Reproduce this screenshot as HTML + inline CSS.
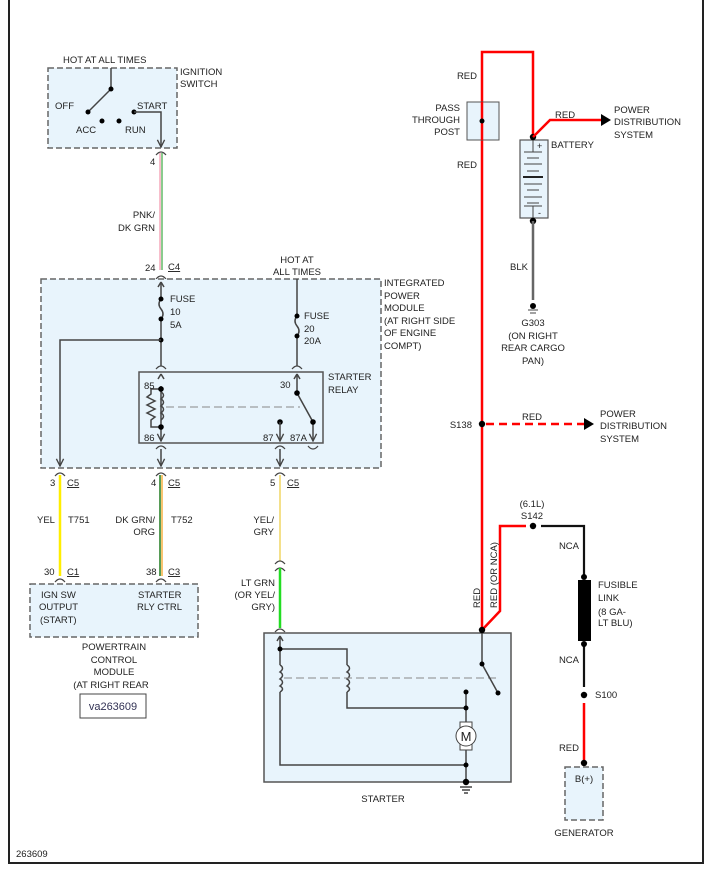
<!DOCTYPE html>
<html><head><meta charset="utf-8"><style>
html,body{margin:0;padding:0;background:#fff;}
svg{display:block;}
text{font-family:"Liberation Sans",Arial,sans-serif;font-size:9.5px;fill:#222;}
.k{stroke:#444;stroke-width:1.5;fill:none;}
.dash{stroke:#666;stroke-width:1.5;stroke-dasharray:6,3;fill:#e8f4fc;}
.red{stroke:#f00;stroke-width:2.5;fill:none;}
.arc{stroke:#444;stroke-width:1.2;fill:none;}
</style></head><body>
<svg width="713" height="872" viewBox="0 0 713 872" xmlns="http://www.w3.org/2000/svg">
<defs>
<marker id="ar" viewBox="0 0 10 10" refX="9" refY="5" markerWidth="6" markerHeight="6" orient="auto"><path d="M1,1 L9,5 L1,9" fill="none" stroke="#444" stroke-width="1.5"/></marker>
</defs>
<!-- frame -->
<path d="M9,0 V863 H703 V0" stroke="#222" stroke-width="2" fill="none"/>

<!-- Ignition switch -->
<rect x="48" y="68" width="129" height="80" class="dash"/>
<text x="63" y="63">HOT AT ALL TIMES</text>
<text x="180" y="75">IGNITION</text><text x="180" y="87">SWITCH</text>
<path class="k" d="M111,68 V89 L88,112"/>
<circle cx="111" cy="89" r="2.5"/><circle cx="88" cy="112" r="2.5"/>
<circle cx="102" cy="121" r="2.5"/><circle cx="119" cy="121" r="2.5"/><circle cx="134" cy="112" r="2.5"/>
<text x="55" y="109">OFF</text><text x="76" y="133">ACC</text><text x="125" y="133">RUN</text><text x="137" y="109">START</text>
<path class="k" d="M134,112 H161 V147" marker-end="url(#ar)"/>
<path class="arc" d="M156,155 Q161,149 166,155"/>
<text x="150" y="165">4</text>
<line x1="160" y1="153" x2="160" y2="270" stroke="#f49ab0" stroke-width="1.3"/>
<line x1="162" y1="153" x2="162" y2="270" stroke="#4caf50" stroke-width="1.3"/>
<text x="155" y="218" text-anchor="end">PNK/</text><text x="155" y="231" text-anchor="end">DK GRN</text>
<text x="145" y="271">24</text><text x="168" y="270" text-decoration="underline">C4</text>
<path class="arc" d="M156,279 Q161,273 166,279"/>

<!-- IPM -->
<rect x="41" y="279" width="340" height="189" class="dash"/>
<text x="384" y="286">INTEGRATED</text><text x="384" y="299">POWER</text><text x="384" y="311">MODULE</text>
<text x="384" y="324">(AT RIGHT SIDE</text><text x="384" y="336">OF ENGINE</text><text x="384" y="349">COMPT)</text>
<text x="297" y="263" text-anchor="middle">HOT AT</text><text x="297" y="275" text-anchor="middle">ALL TIMES</text>
<path class="k" d="M161,282 V299 M161,319 V366" />
<path d="M161,282 l-3,5 M161,282 l3,5" class="k"/>
<path class="k" d="M161,299 q-4,5 0,10 q4,5 0,10"/>
<circle cx="161" cy="299" r="2.5"/><circle cx="161" cy="319" r="2.5"/><circle cx="161" cy="340" r="2.5"/>
<text x="170" y="302">FUSE</text><text x="170" y="315">10</text><text x="170" y="328">5A</text>
<path class="k" d="M161,340 H60 V466" marker-end="url(#ar)"/>
<path class="arc" d="M156,369 Q161,363 166,369"/>
<path class="k" d="M297,279 V316 M297,336 V366"/>
<path class="k" d="M297,316 q-4,5 0,10 q4,5 0,10"/>
<circle cx="297" cy="316" r="2.5"/><circle cx="297" cy="336" r="2.5"/>
<text x="304" y="319">FUSE</text><text x="304" y="332">20</text><text x="304" y="344">20A</text>
<path class="arc" d="M292,369 Q297,363 302,369"/>
<!-- relay -->
<rect x="139" y="372" width="184" height="71" fill="#e8f4fc" stroke="#555" stroke-width="1.5"/>
<text x="328" y="380">STARTER</text><text x="328" y="393">RELAY</text>
<path class="k" d="M161,386 V441" marker-end="url(#ar)"/>
<path class="k" d="M161,374 l-3,5 M161,374 l3,5 M297,374 l-3,5 M297,374 l3,5"/>
<path class="k" d="M161,389 H151 V394 l-4,3 l8,4 l-8,4 l8,4 l-8,4 l8,4 l-4,3 V427 H161"/>
<path class="k" d="M161,392 q5,3 0,7 q5,3 0,7 q5,3 0,7 q5,3 0,7"/>
<circle cx="161" cy="389" r="2.8"/><circle cx="161" cy="427" r="2.8"/>
<text x="144" y="389">85</text><text x="144" y="441">86</text>
<line x1="166" y1="407" x2="300" y2="407" stroke="#888" stroke-width="1" stroke-dasharray="8,4"/>
<text x="280" y="388">30</text>
<path class="k" d="M297,374 V393 L313,422 V441" marker-end="url(#ar)"/>
<circle cx="297" cy="393" r="2.8"/><circle cx="313" cy="422" r="2.8"/><circle cx="280" cy="422" r="2.8"/>
<path class="k" d="M280,422 V441" marker-end="url(#ar)"/>
<text x="263" y="441">87</text><text x="290" y="441">87A</text>
<path class="arc" d="M308,446 Q313,452 318,446"/>
<path class="arc" d="M156,449 Q161,443 166,449 M275,449 Q280,443 285,449"/>
<path class="k" d="M161,449 V466" marker-end="url(#ar)"/>
<path class="k" d="M280,449 V466" marker-end="url(#ar)"/>
<path class="arc" d="M55,476 Q60,470 65,476 M156,476 Q161,470 166,476 M275,476 Q280,470 285,476"/>
<text x="50" y="486">3</text><text x="67" y="486" text-decoration="underline">C5</text>
<text x="151" y="486">4</text><text x="168" y="486" text-decoration="underline">C5</text>
<text x="270" y="486">5</text><text x="287" y="486" text-decoration="underline">C5</text>

<!-- wires down -->
<line x1="60" y1="475" x2="60" y2="576" stroke="#ffee00" stroke-width="2.5"/>
<line x1="160" y1="475" x2="160" y2="576" stroke="#1f7a1f" stroke-width="1.5"/>
<line x1="162" y1="475" x2="162" y2="576" stroke="#f39c12" stroke-width="1.2"/>
<line x1="280" y1="475" x2="280" y2="561" stroke="#f4e08a" stroke-width="2"/>
<path class="arc" d="M275,564 Q280,558 285,564 M275,571 Q280,565 285,571"/>
<line x1="280" y1="568" x2="280" y2="628" stroke="#22dd22" stroke-width="2.5"/>
<text x="37" y="523">YEL</text><text x="68" y="523">T751</text>
<text x="155" y="523" text-anchor="end">DK GRN/</text><text x="155" y="535" text-anchor="end">ORG</text><text x="171" y="523">T752</text>
<text x="274" y="523" text-anchor="end">YEL/</text><text x="274" y="535" text-anchor="end">GRY</text>
<text x="275" y="586" text-anchor="end">LT GRN</text><text x="275" y="598" text-anchor="end">(OR YEL/</text><text x="275" y="610" text-anchor="end">GRY)</text>
<text x="44" y="575">30</text><text x="67" y="575" text-decoration="underline">C1</text>
<text x="146" y="575">38</text><text x="168" y="575" text-decoration="underline">C3</text>
<path class="arc" d="M55,582 Q60,576 65,582 M156,582 Q161,576 166,582"/>

<!-- PCM -->
<rect x="30" y="584" width="168" height="53" class="dash"/>
<text x="41" y="598">IGN SW</text><text x="39" y="610">OUTPUT</text><text x="40" y="623">(START)</text>
<text x="138" y="598">STARTER</text><text x="137" y="610">RLY CTRL</text>
<text x="114" y="650" text-anchor="middle">POWERTRAIN</text><text x="114" y="663" text-anchor="middle">CONTROL</text>
<text x="114" y="675" text-anchor="middle">MODULE</text><text x="111" y="688" text-anchor="middle">(AT RIGHT REAR</text>
<rect x="80" y="694" width="66" height="24" fill="#fff" stroke="#444" stroke-width="1"/>
<text x="113" y="710" text-anchor="middle" style="font-size:11px;fill:#335">va263609</text>
<text x="16" y="857">263609</text>

<!-- Starter -->
<rect x="264" y="633" width="247" height="149" fill="#e8f4fc" stroke="#555" stroke-width="1.5"/>
<text x="383" y="802" text-anchor="middle">STARTER</text>
<path class="arc" d="M275,632 Q280,626 285,632"/>
<path class="k" d="M280,636 l-3,5 M280,636 l3,5 M280,636 V665 M280,692 V765 H466"/>
<path class="k" d="M280,665 q5,3 0,7 q5,3 0,7 q5,3 0,7 q5,3 0,6"/>
<path class="k" d="M280,649 H347 V665 M347,692 V708 H466"/>
<path class="k" d="M347,665 q5,3 0,7 q5,3 0,7 q5,3 0,7 q5,3 0,6"/>
<circle cx="280" cy="649" r="2.5"/>
<line x1="284" y1="678" x2="498" y2="678" stroke="#888" stroke-width="1" stroke-dasharray="8,4"/>
<path class="k" d="M466,692 V722 M466,750 V782"/>
<circle cx="466" cy="692" r="2.5"/><circle cx="466" cy="708" r="2.5"/><circle cx="466" cy="765" r="2.5"/><circle cx="466" cy="782" r="3.2"/>
<rect x="460" y="722" width="12" height="28" fill="#fff" stroke="#444" stroke-width="1"/>
<circle cx="466" cy="736" r="10" fill="#fff" stroke="#444" stroke-width="1"/>
<text x="466" y="741" text-anchor="middle" style="font-size:13px">M</text>
<path class="k" d="M460,787 h12 M462,790 h8 M464,793 h4" stroke-width="1"/>
<path class="k" d="M482,630 V664 L498,693"/>
<circle cx="482" cy="664" r="2.5"/><circle cx="498" cy="693" r="2.5"/>

<!-- red main -->
<path class="red" d="M482,630 V52 H533 V137"/>
<rect x="467" y="102" width="32" height="38" fill="#e8f4fc" stroke="#555" stroke-width="1"/>
<line x1="482" y1="102" x2="482" y2="140" stroke="#f00" stroke-width="2.5"/>
<circle cx="482" cy="121" r="2.5"/>
<text x="460" y="111" text-anchor="end">PASS</text><text x="460" y="123" text-anchor="end">THROUGH</text><text x="460" y="135" text-anchor="end">POST</text>
<text x="477" y="79" text-anchor="end">RED</text><text x="477" y="168" text-anchor="end">RED</text>
<!-- battery -->
<rect x="520" y="140" width="28" height="78" fill="#e8f4fc" stroke="#555" stroke-width="1.2"/>
<path d="M533,140 V152 M533,206 V218" stroke="#444" stroke-width="1"/>
<path stroke="#444" stroke-width="1" d="M524,152 h18 M527,158 h12 M524,164 h18 M527,171 h12 M524,184 h18 M527,190 h12 M524,197 h18 M527,203 h12 M524,206 h18"/>
<path stroke="#222" stroke-width="2" d="M523,177 h20"/>
<text x="537" y="149" style="font-size:9px">+</text><text x="538" y="216" style="font-size:9px">-</text>
<circle cx="533" cy="137" r="3.2"/><circle cx="533" cy="221" r="3.2"/>
<text x="551" y="148">BATTERY</text>
<path class="red" d="M533,137 L550,120 H602"/>
<path d="M601,114 L611,120 L601,126 Z" fill="#000"/>
<text x="555" y="118">RED</text>
<text x="614" y="113">POWER</text><text x="614" y="125">DISTRIBUTION</text><text x="614" y="138">SYSTEM</text>
<line x1="533" y1="221" x2="533" y2="300" stroke="#666" stroke-width="2.5"/>
<text x="528" y="270" text-anchor="end">BLK</text>
<circle cx="533" cy="306" r="3"/><path d="M528,310 h10 M530,313 h6" stroke="#444" stroke-width="1"/>
<text x="533" y="326" text-anchor="middle">G303</text><text x="533" y="339" text-anchor="middle">(ON RIGHT</text>
<text x="533" y="351" text-anchor="middle">REAR CARGO</text><text x="533" y="364" text-anchor="middle">PAN)</text>
<!-- S138 -->
<circle cx="482" cy="424" r="3.2"/>
<text x="472" y="428" text-anchor="end">S138</text>
<line x1="486" y1="424" x2="584" y2="424" stroke="#f00" stroke-width="2.5" stroke-dasharray="8,5"/>
<path d="M584,418 L594,424 L584,430 Z" fill="#000"/>
<text x="532" y="420" text-anchor="middle">RED</text>
<text x="600" y="417">POWER</text><text x="600" y="429">DISTRIBUTION</text><text x="600" y="442">SYSTEM</text>
<!-- second red -->
<path class="red" d="M482,630 L500,611 V526 H526"/>
<circle cx="482" cy="630" r="3.2"/>
<circle cx="533" cy="526" r="3.2"/>
<text x="532" y="507" text-anchor="middle">(6.1L)</text><text x="532" y="519" text-anchor="middle">S142</text>
<path stroke="#111" stroke-width="2.2" fill="none" d="M541,526 H584 V577 M584,644 V687"/>
<rect x="578" y="580" width="13" height="61" fill="#000"/>
<circle cx="584" cy="577" r="3"/><circle cx="584" cy="644" r="3"/>
<text x="579" y="549" text-anchor="end">NCA</text><text x="579" y="663" text-anchor="end">NCA</text>
<text x="598" y="588">FUSIBLE</text><text x="598" y="601">LINK</text><text x="598" y="615">(8 GA-</text><text x="598" y="626">LT BLU)</text>
<circle cx="584" cy="695" r="3.2"/><text x="595" y="698">S100</text>
<line x1="584" y1="703" x2="584" y2="763" stroke="#f00" stroke-width="2.5"/>
<circle cx="584" cy="763" r="3.2"/>
<text x="579" y="751" text-anchor="end">RED</text>
<rect x="565" y="767" width="38" height="53" class="dash"/>
<text x="584" y="782" text-anchor="middle">B(+)</text>
<text x="584" y="836" text-anchor="middle">GENERATOR</text>
<text transform="translate(480,608) rotate(-90)">RED</text>
<text transform="translate(497,608) rotate(-90)">RED (OR NCA)</text>
</svg>
</body></html>
